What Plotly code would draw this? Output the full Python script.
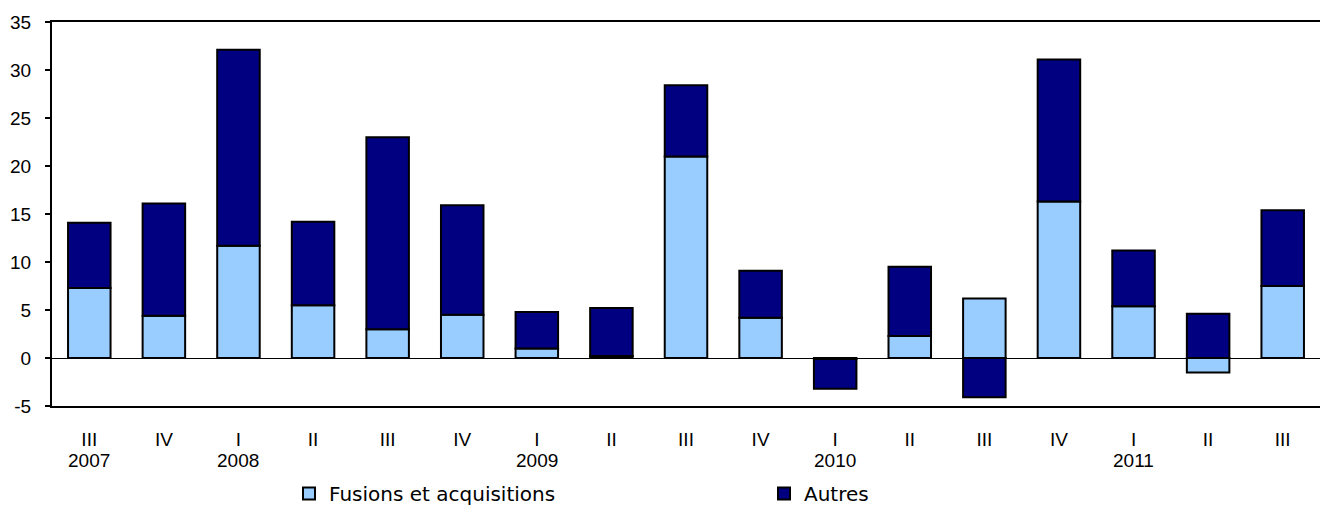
import plotly.graph_objects as go

quarters = ["III", "IV", "I", "II", "III", "IV", "I", "II", "III", "IV",
            "I", "II", "III", "IV", "I", "II", "III"]
years = ["2007", "", "2008", "", "", "", "2009", "", "", "",
         "2010", "", "", "", "2011", "", ""]
fusions = [7.3, 4.4, 11.7, 5.5, 3.0, 4.5, 1.0, 0.2, 21.0, 4.2,
           -0.1, 2.3, 6.2, 16.3, 5.4, -1.5, 7.5]
autres = [6.8, 11.7, 20.4, 8.7, 20.0, 11.4, 3.8, 5.0, 7.4, 4.9,
          -3.1, 7.2, -4.1, 14.8, 5.8, 4.6, 7.9]
series_names = ["Fusions et acquisitions", "Autres"]
y_ticks = [-5, 0, 5, 10, 15, 20, 25, 30, 35]
y_tick_labels = ["-5", "0", "5", "10", "15", "20", "25", "30", "35"]

pos = list(range(len(quarters)))

fig = go.Figure()
fig.add_trace(go.Bar(x=pos, y=fusions, name=series_names[0],
                     marker=dict(color="#99CCFF", line=dict(color="black", width=2))))
fig.add_trace(go.Bar(x=pos, y=autres, name=series_names[1],
                     marker=dict(color="#000080", line=dict(color="black", width=2))))

for i, yr in enumerate(years):
    if yr:
        fig.add_annotation(x=i, xref="x", y=-54 / 384, yref="paper", text=yr,
                           showarrow=False, yanchor="middle",
                           font=dict(family="Liberation Sans, Arial", size=19, color="black"))

fig.update_layout(
    width=1320, height=506,
    margin=dict(l=52, r=0, t=22, b=100, autoexpand=False),
    plot_bgcolor="white", paper_bgcolor="white",
    barmode="relative", bargap=0.43,
    showlegend=True,
    legend=dict(orientation="h", x=(289 - 52) / 1268, xanchor="left",
                y=-107 / 384, yanchor="bottom", entrywidth=430,
                font=dict(family="DejaVu Sans", size=20, color="black"),
                traceorder="normal"),
    xaxis=dict(tickmode="array", tickvals=pos, ticktext=quarters,
               range=[-0.5, len(quarters) - 0.5], automargin=False,
               showline=True, linecolor="black", linewidth=2, mirror=True,
               ticks="", showgrid=False, zeroline=False,
               ticklabelstandoff=15,
               tickfont=dict(family="Liberation Sans, Arial", size=19, color="black")),
    yaxis=dict(range=[-5, 35], tickmode="array", tickvals=y_ticks, ticktext=y_tick_labels,
               automargin=False,
               showline=True, linecolor="black", linewidth=2,
               ticks="outside", ticklen=5, tickcolor="black", tickwidth=2,
               showgrid=False, zeroline=True, zerolinecolor="black", zerolinewidth=1,
               ticklabelstandoff=10,
               tickfont=dict(family="Liberation Sans, Arial", size=19, color="black")),
)

fig.write_html("out.html", config={"displayModeBar": False},
               post_script="document.body.style.margin='0';")
